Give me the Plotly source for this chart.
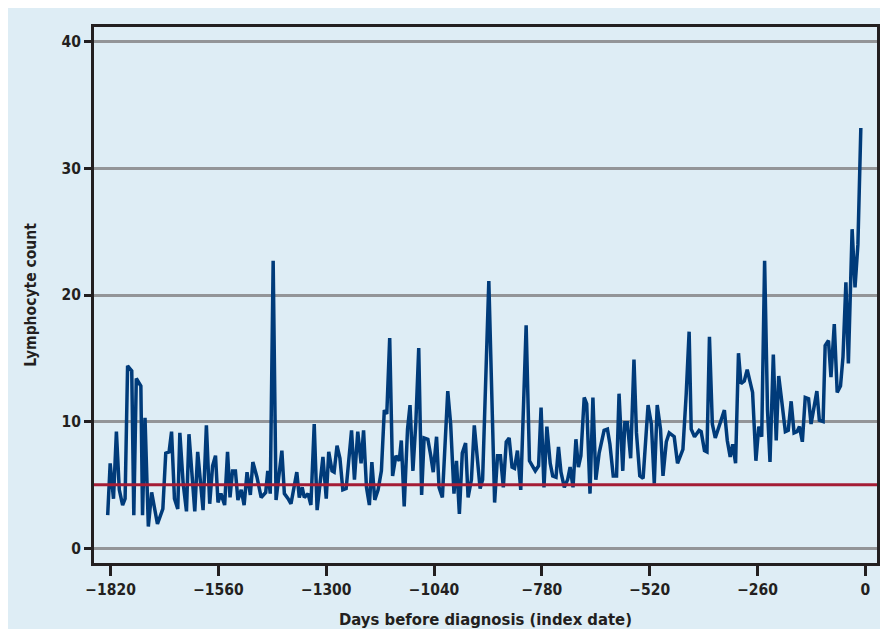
import plotly.graph_objects as go

days = [-1827, -1821, -1813, -1806, -1799, -1791, -1785, -1779, -1769, -1764, -1758, -1747, -1743, -1737,
        -1729, -1721, -1707, -1694, -1687, -1679, -1673, -1666, -1658, -1653, -1645, -1637, -1631, -1623,
        -1617, -1610, -1602, -1597, -1589, -1581, -1574, -1567, -1561, -1554, -1545, -1538, -1532,
        -1526, -1519, -1513, -1505, -1498, -1491, -1483, -1477, -1467, -1457, -1446, -1441, -1435, -1428,
        -1421, -1407, -1401, -1392, -1385, -1371, -1365, -1358, -1353, -1344, -1337, -1329, -1322, -1308,
        -1300, -1294, -1286, -1281, -1274, -1267, -1260, -1252, -1239,
        -1232, -1224, -1216, -1210, -1203, -1196, -1190, -1183, -1175, -1167, -1160, -1154, -1147, -1140,
        -1132, -1124, -1119, -1112, -1104, -1098, -1091, -1084, -1077, -1070, -1064, -1055, -1048, -1042,
        -1034, -1028, -1020, -1007, -1000, -992, -986, -979, -972, -964, -958, -950, -943,
        -929, -923, -914, -908, -894, -887, -880, -873, -866, -859, -852, -846, -839, -831, -818, -810,
        -796, -788, -782, -775, -768, -760, -754, -746, -740, -734, -726, -718, -712, -705, -698, -692,
        -686, -678, -672, -664, -657, -650, -642,
        -630, -622, -616, -608, -600, -594, -585, -580, -574, -566, -558, -552, -544, -536, -524, -516,
        -509, -502, -494, -488, -480, -473, -461, -453, -440, -432, -425, -420, -412, -401, -396, -388,
        -382, -376, -369, -362, -352, -340, -333, -326, -320, -313,
        -306, -300, -292, -285, -272, -264, -257, -250, -243, -236, -230, -222, -215, -209, -202, -193,
        -186, -179, -172, -165, -159, -152, -145, -137, -131, -123, -117, -111, -102, -97, -89, -83,
        -75, -68, -60, -54, -47, -41, -32, -25, -18, -11]

lymphocytes = [2.6, 6.7, 3.9, 9.2, 4.6, 3.4, 3.9, 14.4, 14.0, 2.6, 13.4, 12.8, 2.6, 10.3,
               1.7, 4.4, 1.9, 3.1, 7.5, 7.6, 9.2, 3.9, 3.1, 9.1, 5.1, 2.9, 9.0, 5.1,
               2.9, 7.6, 5.1, 3.0, 9.7, 3.5, 6.5, 7.3, 3.6, 4.3, 3.4, 7.6, 4.0,
               6.1, 6.1, 3.8, 4.6, 3.4, 6.0, 4.2, 6.8, 5.6, 4.0, 4.4, 6.1, 4.3, 22.7,
               3.8, 7.7, 4.3, 3.9, 3.5, 6.0, 4.0, 4.8, 4.0, 4.3, 3.4, 9.8, 3.0, 7.2,
               3.9, 7.6, 6.1, 6.0, 8.1, 7.1, 4.6, 4.7, 9.3,
               5.4, 9.2, 6.7, 9.3, 4.8, 3.4, 6.8, 3.8, 4.6, 6.1, 10.9, 10.6, 16.6, 5.7,
               7.3, 6.9, 8.5, 3.3, 9.4, 11.3, 6.1, 9.9, 15.8, 4.2, 8.7, 8.6, 7.3, 6.0,
               8.8, 4.8, 4.0, 12.4, 9.8, 4.3, 6.9, 2.7, 7.5, 8.3, 4.0, 5.4, 9.7,
               4.7, 5.4, 15.6, 21.1, 3.6, 7.3, 7.3, 4.8, 8.4, 8.7, 6.4, 6.3, 7.7, 4.6, 17.6, 6.9,
               6.1, 6.5, 11.1, 4.8, 9.6, 6.7, 5.7, 5.6, 8.0, 6.0, 4.8, 5.4, 6.4, 4.8, 8.6, 6.4,
               7.3, 11.9, 11.4, 4.3, 11.9, 5.4, 7.5,
               9.3, 9.4, 8.2, 5.7, 5.7, 12.2, 6.1, 9.9, 9.9, 7.1, 14.9, 9.1, 5.7, 5.5, 11.3, 9.8,
               5.1, 11.3, 9.4, 5.7, 8.4, 9.1, 8.8, 6.7, 7.8, 12.2, 17.1, 9.4, 8.8, 9.3, 9.2, 7.7,
               7.6, 16.7, 9.8, 8.7, 9.7, 10.9, 8.5, 7.2, 8.2, 6.7,
               15.4, 13.0, 13.2, 14.1, 12.3, 6.9, 9.6, 8.8, 22.7, 10.9, 6.8, 15.3, 8.5, 13.6, 11.7, 9.2,
               9.3, 11.6, 9.1, 9.2, 9.6, 8.4, 11.9, 11.8, 9.8, 11.4, 12.4, 10.1, 10.0, 16.0, 16.4, 13.5,
               17.7, 12.3, 12.8, 15.1, 21.0, 14.6, 25.2, 20.6, 24.0, 33.2]

threshold = 5
x_ticks = [-1820, -1560, -1300, -1040, -780, -520, -260, 0]
x_tick_labels = ["\u22121820", "\u22121560", "\u22121300", "\u22121040",
                 "\u2212780", "\u2212520", "\u2212260", "0"]
y_ticks = [0, 10, 20, 30, 40]

FONT = "DejaVu Sans Condensed, Liberation Sans Narrow, Arial Narrow, sans-serif"
BG = "#deedf5"
INK = "#231f20"

fig = go.Figure()
fig.add_trace(go.Scatter(
    x=days, y=lymphocytes, mode="lines",
    line=dict(color="#003b7a", width=3.5),
    hoverinfo="x+y", showlegend=False,
))

fig.add_hline(y=threshold, line=dict(color="#a51d36", width=3))

fig.update_layout(
    width=872, height=621,
    margin=dict(l=86, r=0, t=19, b=66),
    paper_bgcolor=BG,
    plot_bgcolor=BG,
    font=dict(family=FONT, color=INK, size=15),
)
fig.update_xaxes(
    range=[-1860, 28], tickmode="array", tickvals=x_ticks, ticktext=x_tick_labels,
    showgrid=False, zeroline=False,
    showline=True, linecolor=INK, linewidth=3, mirror=True,
    ticks="outside", ticklen=10, tickwidth=3, tickcolor=INK,
    tickfont=dict(family=FONT, size=15.5, weight="bold", color=INK),
    title=dict(text="Days before diagnosis (index date)", standoff=16,
               font=dict(family=FONT, size=16.5, weight="bold", color=INK)),
)
fig.update_yaxes(
    range=[-1.18, 41.18], tickmode="array", tickvals=y_ticks,
    showgrid=True, gridcolor="#939598", gridwidth=3, zeroline=False,
    showline=True, linecolor=INK, linewidth=3, mirror=True,
    ticks="outside", ticklen=7, tickwidth=3, tickcolor=INK,
    tickfont=dict(family=FONT, size=15.5, weight="bold", color=INK),
    title=dict(text="Lymphocyte count", standoff=22,
               font=dict(family=FONT, size=15.5, weight="bold", color=INK)),
)

fig.write_html("out.html")
